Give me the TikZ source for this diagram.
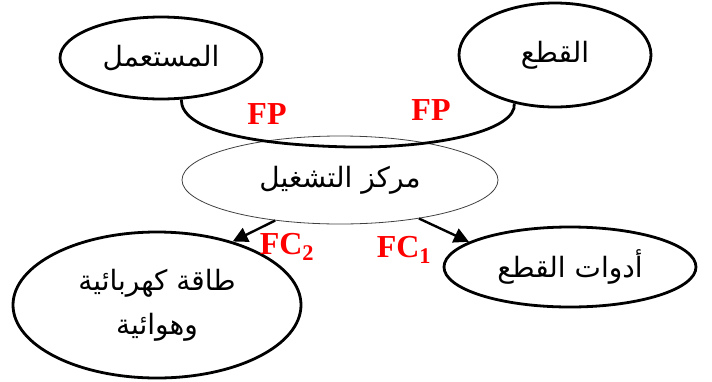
\documentclass[tikz,border=0pt]{standalone}
\usepackage{fontspec}
\setmainfont{Liberation Serif}
\newfontfamily\arabicfont[Script=Arabic]{DejaVu Sans}
\TeXXeTstate=1
\usetikzlibrary{shapes.geometric,arrows.meta}
\begin{document}
\begin{tikzpicture}[x=1pt,y=-1pt,
  bubble/.style={ellipse,draw=black,line width=2.8pt,inner sep=0pt,fill=white},
  hub/.style={ellipse,draw=black!75,line width=0.8pt,inner sep=0pt},
  artext/.style={font=\arabicfont\fontsize{28}{34}\selectfont,align=center},
  flowlabel/.style={text=red,font=\bfseries\fontsize{32}{32}\selectfont,inner sep=0pt},
  link/.style={line width=2.8pt},
  flow/.style={line width=2.4pt,-{Triangle[length=15pt,width=15pt]}}]
\useasboundingbox (0,0) rectangle (712,381);

% outer actors and the operating centre
\node[bubble,minimum width=202pt,minimum height=82pt] (user) at (161,58) {};
\node[artext] at (user.center) {\beginR المستعمل\endR};
\node[bubble,minimum width=192pt,minimum height=104pt] (part) at (555,55) {};
\node[artext] at (part.center) {\beginR القطع\endR};
\node[hub,minimum width=316pt,minimum height=88pt] (centre) at (340,180) {};
\node[artext] at (centre.center) {\beginR مركز التشغيل\endR};

% principal function linking the user and the part
\draw[link] (user.-64) .. controls (181,130) and (250,145) .. (350,147)
  .. controls (440,148) and (517,130) .. (part.-130);
\node[flowlabel] (fp1) at (267,114) {FP};
\node[flowlabel] (fp2) at (431,110) {FP};

% constraint functions
\node[bubble,minimum width=288pt,minimum height=146pt] (energy) at (157,305) {};
\node[artext] at (157,283) {\beginR طاقة كهربائية\endR};
\node[artext] at (157,327) {\beginR وهوائية\endR};
\node[bubble,minimum width=252pt,minimum height=80pt] (tools) at (570,267) {};
\node[artext] at (tools.center) {\beginR أدوات القطع\endR};

\draw[flow] (centre.212.4) -- (energy.40);
\draw[flow] (centre.334.6) -- (tools.166.5);
\node[flowlabel] (fc2) at (287,247) {FC\textsubscript{2}};
\node[flowlabel] (fc1) at (404,250) {FC\textsubscript{1}};
\end{tikzpicture}
\end{document}
